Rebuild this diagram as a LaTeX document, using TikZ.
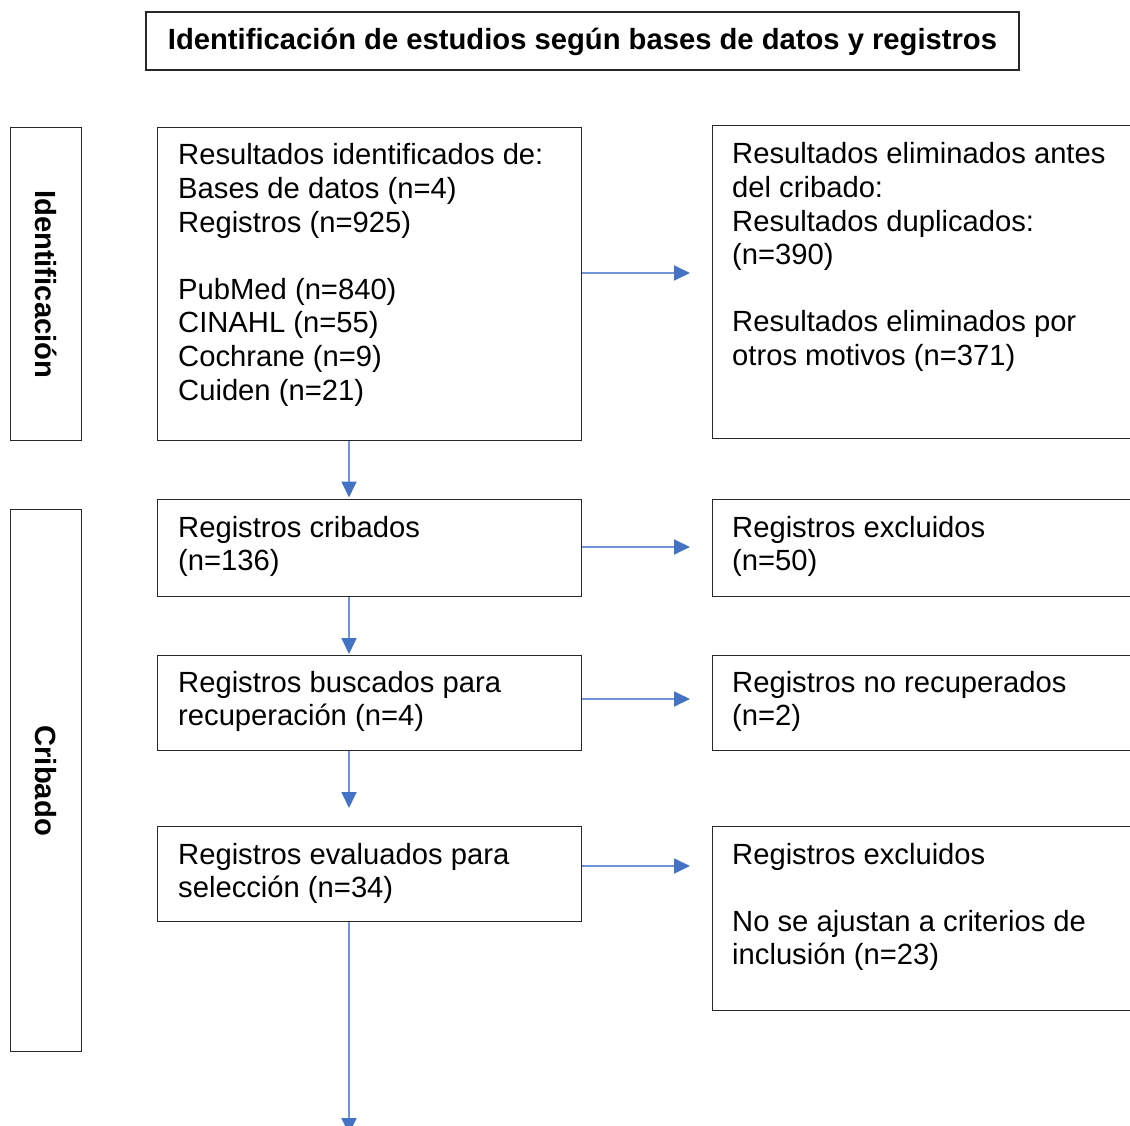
\documentclass[tikz,border=0pt]{standalone}
\usepackage{fontspec}
\setmainfont{Liberation Sans}
\usetikzlibrary{arrows.meta,calc}
\definecolor{arrline}{RGB}{114,147,214}
\definecolor{arrhead}{RGB}{68,114,196}
\definecolor{boxline}{RGB}{40,40,40}
\tikzset{
  box/.style={draw=boxline, line width=1.4pt, inner sep=0pt, anchor=north west},
  txt/.style={anchor=base west, inner sep=0pt, font=\fontsize{29.2}{33.6}\selectfont},
  arr/.style={draw=arrline, line width=1.8pt, -{Triangle[length=16pt,width=15pt,color=arrhead]}},
  sidelabel/.style={font=\fontsize{29.2}{34}\selectfont\bfseries, rotate=-90, inner sep=0pt},
}
\newcommand{\tblock}[1]{\parbox[t]{420pt}{\raggedright #1}}
\begin{document}
\begin{tikzpicture}[x=1pt,y=-1pt]
\useasboundingbox (0,0) rectangle (1130,1126);
\clip (0,0) rectangle (1130,1126);
% title
\node[box, anchor=center, minimum width=873pt, minimum height=58pt] (title) at (582.5,41) {};
\node[anchor=base, inner sep=0pt, font=\fontsize{29.2}{34}\selectfont\bfseries] (titlet) at (582.5,50)
      {Identificación de estudios según bases de datos y registros};
% side boxes
\node[box, minimum width=71pt, minimum height=313pt] (sid) at (10,127) {};
\node[sidelabel] (sidt) at (sid.center) {Identificación};
\node[box, minimum width=71pt, minimum height=542pt] (scr) at (10,509) {};
\node[sidelabel] (scrt) at (scr.center) {Cribado};
% left boxes
\node[box, minimum width=424pt, minimum height=313pt] (b1) at (157,127) {};
\node[box, minimum width=424pt, minimum height=97pt] (b2) at (157,499) {};
\node[box, minimum width=424pt, minimum height=95pt] (b3) at (157,655) {};
\node[box, minimum width=424pt, minimum height=95pt] (b4) at (157,826) {};
% right boxes (cut at the right edge)
\node[box, minimum width=450pt, minimum height=313pt] (r1) at (712,125) {};
\node[box, minimum width=450pt, minimum height=97pt] (r2) at (712,499) {};
\node[box, minimum width=450pt, minimum height=95pt] (r3) at (712,655) {};
\node[box, minimum width=450pt, minimum height=184pt] (r4) at (712,826) {};
% texts
\node[txt] (t1) at (178,165) {\tblock{Resultados identificados de:\\Bases de datos (n=4)\\Registros (n=925)\\[33.6pt]PubMed (n=840)\\CINAHL (n=55)\\Cochrane (n=9)\\Cuiden (n=21)}};
\node[txt] (t2) at (178,537) {\tblock{Registros cribados\\(n=136)}};
\node[txt] (t3) at (178,692) {\tblock{Registros buscados para\\recuperación (n=4)}};
\node[txt] (t4) at (178,864) {\tblock{Registros evaluados para\\selección (n=34)}};
\node[txt] (u1) at (732,164) {\tblock{Resultados eliminados antes\\del cribado:\\Resultados duplicados:\\(n=390)\\[33.6pt]Resultados eliminados por\\otros motivos (n=371)}};
\node[txt] (u2) at (732,537) {\tblock{Registros excluidos\\(n=50)}};
\node[txt] (u3) at (732,692) {\tblock{Registros no recuperados\\(n=2)}};
\node[txt] (u4) at (732,864) {\tblock{Registros excluidos\\[33.6pt]No se ajustan a criterios de\\inclusión (n=23)}};
% helper coordinates
\coordinate (v) at (349,0);
\coordinate (h1) at (0,273);
\coordinate (h2) at (0,547);
\coordinate (h3) at (0,699);
\coordinate (h4) at (0,866);
\coordinate (bottomend) at (349,1134);
% horizontal arrows
\draw[arr, shorten >=22pt] (b1.east |- h1) -- (r1.west |- h1);
\draw[arr, shorten >=22pt] (b2.east |- h2) -- (r2.west |- h2);
\draw[arr, shorten >=22pt] (b3.east |- h3) -- (r3.west |- h3);
\draw[arr, shorten >=22pt] (b4.east |- h4) -- (r4.west |- h4);
% vertical arrows
\draw[arr, shorten >=1.5pt] (b1.south -| v) -- (b2.north -| v);
\draw[arr, shorten >=1pt] (b2.south -| v) -- (b3.north -| v);
\draw[arr, shorten >=18pt] (b3.south -| v) -- (b4.north -| v);
\draw[arr] (b4.south -| v) -- (bottomend);
\end{tikzpicture}
\end{document}
